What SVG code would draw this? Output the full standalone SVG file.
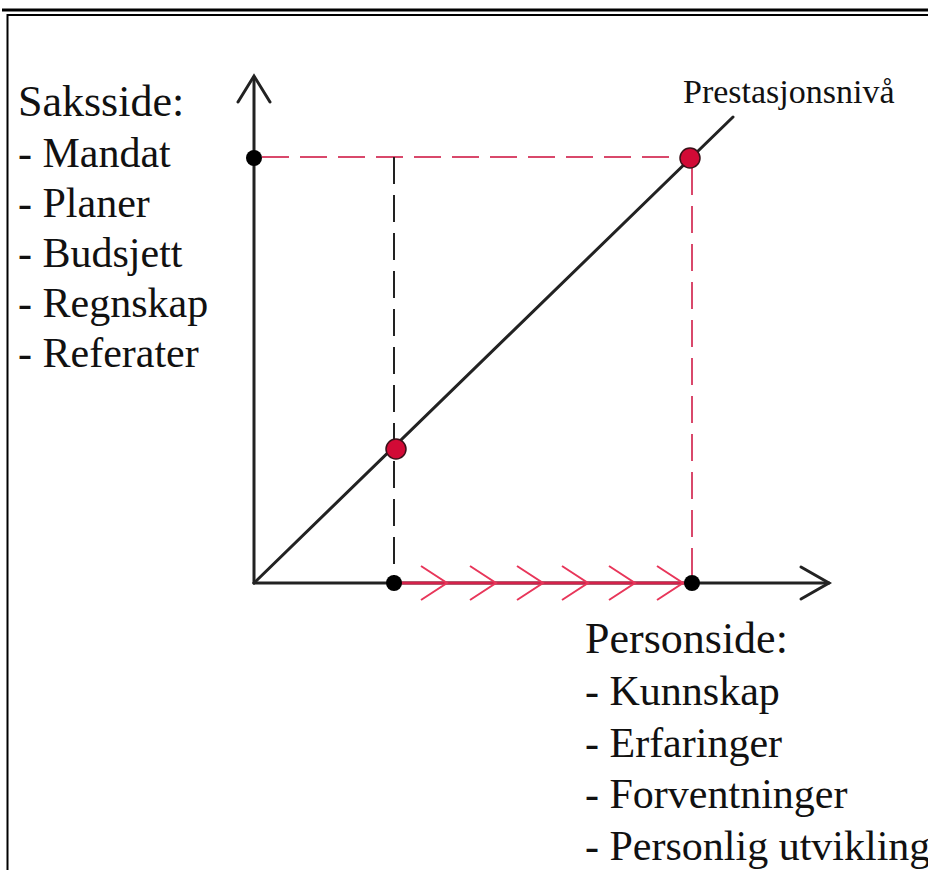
<svg xmlns="http://www.w3.org/2000/svg" width="928" height="870" viewBox="0 0 928 870">
<style>
.t{font-family:"Liberation Serif","Times New Roman",serif;fill:#111}
.big{font-size:42px}
.head{font-size:44px}
.ax{stroke:#222;stroke-width:3;fill:none;stroke-linecap:round}
.rd{stroke:#d9486b;stroke-width:2;stroke-dasharray:27 11;fill:none}
.bd{stroke:#222;stroke-width:2;stroke-dasharray:27 11;fill:none}
.ch{stroke:#e8365a;stroke-width:2;fill:none}
.rdot{fill:#d20a36;stroke:#3a1018;stroke-width:1.5}
.bdot{fill:#000}
</style>
<rect width="928" height="870" fill="#fff"/>
<g id="frame">
<line x1="2" y1="10" x2="928" y2="10" stroke="#000" stroke-width="3"/>
<polyline points="7.5,870 7.5,15 928,15" fill="none" stroke="#000" stroke-width="2"/>
</g>
<g id="connectors">
<line class="rd" x1="262" y1="157" x2="690" y2="157"/>
<line class="bd" x1="394" y1="157" x2="394" y2="583"/>
<line class="rd" x1="692" y1="168" x2="692" y2="583"/>
<line class="ax" x1="254" y1="583" x2="254" y2="77"/>
<polyline class="ax" points="238,102 254,76 270,102"/>
<line class="ax" x1="254" y1="583" x2="829" y2="583"/>
<polyline class="ax" points="801,567 829,583 801,599"/>
<line class="ax" x1="254" y1="583" x2="733" y2="117"/>
<line stroke="#d4224a" stroke-width="3" x1="394" y1="583" x2="692" y2="583"/>
<g class="ch">
<polyline points="421,566 447,583 421,600"/>
<polyline points="470,566 496,583 470,600"/>
<polyline points="517,566 543,583 517,600"/>
<polyline points="562,566 588,583 562,600"/>
<polyline points="609,566 635,583 609,600"/>
<polyline points="657,566 683,583 657,600"/>
</g>
</g>
<g id="points">
<circle class="bdot" cx="254" cy="158" r="8"/>
<circle class="bdot" cx="394" cy="583" r="8"/>
<circle class="bdot" cx="692" cy="583" r="8"/>
<circle class="rdot" cx="396" cy="449" r="10"/>
<circle class="rdot" cx="690" cy="158" r="10"/>
</g>
<g id="label-prestasjon">
<text class="t" x="683" y="103" font-size="34">Prestasjonsnivå</text>
</g>
<g id="saksside">
<text class="t head" x="18" y="116">Saksside:</text>
<text class="t big" x="18" y="167">- Mandat</text>
<text class="t big" x="18" y="217">- Planer</text>
<text class="t big" x="18" y="267">- Budsjett</text>
<text class="t big" x="18" y="317">- Regnskap</text>
<text class="t big" x="18" y="367">- Referater</text>
</g>
<g id="personside">
<text class="t head" x="585" y="653">Personside:</text>
<text class="t big" x="585" y="705">- Kunnskap</text>
<text class="t big" x="585" y="757">- Erfaringer</text>
<text class="t big" x="585" y="808">- Forventninger</text>
<text class="t big" x="585" y="860">- Personlig utvikling</text>
</g>
</svg>
